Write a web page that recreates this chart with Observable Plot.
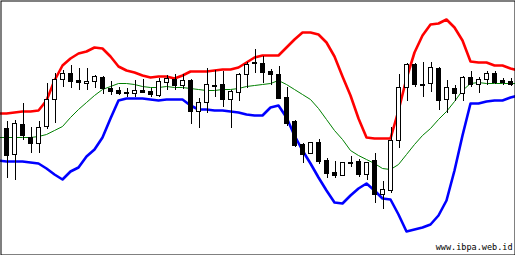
<!DOCTYPE html>
<html>
<head>
<meta charset="utf-8">
<script src="https://cdn.jsdelivr.net/npm/d3@7"></script>
<script src="https://cdn.jsdelivr.net/npm/@observablehq/plot@0.6"></script>
<style>
  html, body { margin: 0; padding: 0; background: #fff; }
</style>
</head>
<body>
<div id="chart"></div>
<script>
// Candles (price units), oldest to newest
const opens  = [132,106,136,123,117,134,161,181,187,180,177,179,183,172,170,168,167,170,169,165,178,181,175,180,149,158,174,176,161,168,186,197,197,189,186,163,139,116,107,118,100,88,85,97,99,86,100,66,70,120,173,196,176,177,192,161,172,167,183,176,181,187,180,179];
const highs  = [139,140,157,133,139,177,187,190,195,192,192,185,184,179,173,172,180,181,172,182,185,186,186,181,162,192,190,189,170,187,198,211,204,191,194,173,140,117,118,121,102,99,98,104,101,98,107,79,133,186,197,197,198,198,193,180,175,184,189,183,189,189,182,182];
const lows   = [82,80,120,107,107,131,137,173,172,170,170,172,166,165,165,163,163,167,163,163,170,170,171,136,132,147,163,153,132,159,172,187,177,175,161,134,113,97,106,96,82,82,84,93,83,80,57,51,67,112,159,173,163,168,150,147,159,159,173,167,175,176,175,174];
const closes = [105,137,125,117,133,161,181,187,179,178,179,184,172,169,167,167,170,168,166,179,182,175,180,149,158,176,175,161,169,186,196,198,188,186,162,137,115,106,118,99,87,85,98,98,86,98,66,71,120,173,196,176,175,193,160,173,167,183,176,181,187,178,178,176];

// Bollinger bands, one value per bar from the bar before the first visible one to the bar after the last
const upperBand  = [147,147,148,149,149,150,160,180,195,202,207,209,213,212,204,194,190,188,185,183,184,184,182,185,189,189,189,190,191,191,193,198,203,205,205,205,213,221,228,228,226,218,204,184,165,142,123,122,122,122,150,182,208,225,236,237,241,233,220,199,198,198,195,195,192,190];
const middleBand = [123,123,123,123,123,124,126,130,134,143,151,158,165,171,174,177,177,176,174,173,173,174,173,173,172,171,170,170,171,171,172,174,175,176,177,180,176,171,166,161,152,141,130,121,110,105,101,97,92,91,96,106,116,125,132,141,149,159,170,177,178,177,177,177,177,177];
const lowerBand  = [100,99,99,99,98,97,92,86,81,89,93,104,111,123,142,160,162,162,162,161,160,161,161,161,155,151,151,150,150,149,148,146,145,145,153,155,143,125,110,97,83,70,58,57,65,72,77,70,62,61,46,29,31,33,36,45,60,90,125,157,157,159,160,160,163,165];

const watermark = "www.ibpa.web.id";

const candles = opens.map((o, i) => ({i, open: o, high: highs[i], low: lows[i], close: closes[i], up: closes[i] >= o}));
const bandRows = (arr) => arr.map((v, k) => ({i: k - 1, v}));

const chart = Plot.plot({
  width: 515,
  height: 255,
  margin: 0,
  style: {background: "#fff", overflow: "hidden"},
  x: {type: "linear", domain: [-0.75, 63.625], axis: null},
  y: {type: "linear", domain: [5, 260], axis: null},
  marks: [
    Plot.line(bandRows(middleBand), {x: "i", y: "v", stroke: "#008000", strokeWidth: 1, clip: true}),
    Plot.line(bandRows(upperBand), {x: "i", y: "v", stroke: "#ff0000", strokeWidth: 2.6, clip: true}),
    Plot.line(bandRows(lowerBand), {x: "i", y: "v", stroke: "#0000ff", strokeWidth: 2.6, clip: true}),
    Plot.ruleX(candles, {x: "i", y1: "low", y2: "high", stroke: "#000", strokeWidth: 1, dx: 0.5, shapeRendering: "crispEdges"}),
    Plot.rect(candles, {
      x1: d => d.i - 0.1875, x2: d => d.i + 0.3125,
      y1: "open", y2: "close",
      fill: d => d.up ? "#fff" : "#000",
      stroke: "#000", strokeWidth: 1, dy: 0.5,
      shapeRendering: "crispEdges"
    }),
    Plot.text([watermark], {
      frameAnchor: "bottom-right", textAnchor: "end", lineAnchor: "bottom",
      dx: -3, dy: -6, fill: "#000", fontSize: 8.5,
      fontFamily: "DejaVu Sans Mono", letterSpacing: 0.6
    }),
    Plot.frame({stroke: "#000", strokeWidth: 1, inset: 0.5})
  ]
});
document.getElementById("chart").appendChild(chart);
</script>
</body>
</html>
